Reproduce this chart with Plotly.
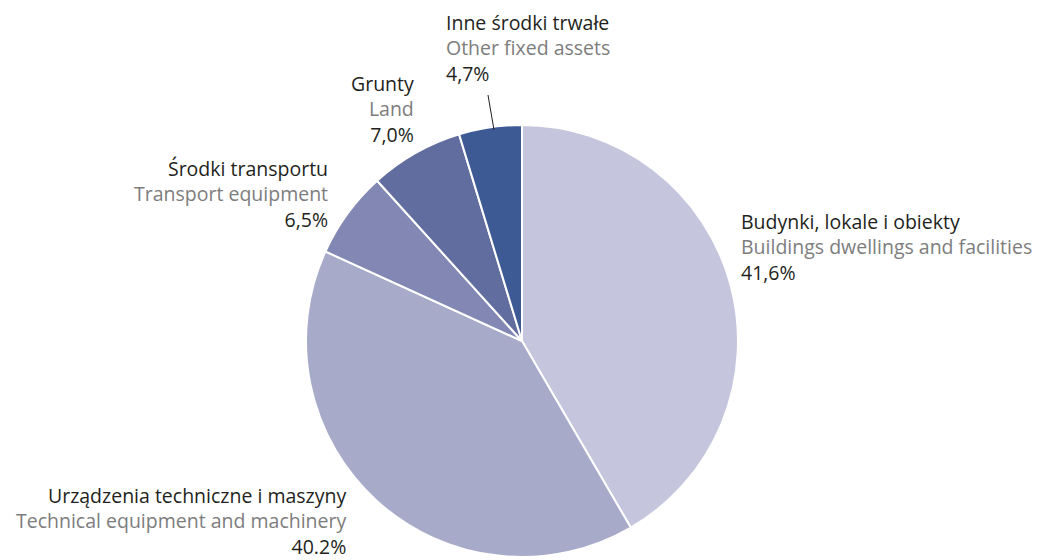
import plotly.graph_objects as go

# data
labels_pl = ["Budynki, lokale i obiekty", "Urządzenia techniczne i maszyny",
             "Środki transportu", "Grunty", "Inne środki trwałe"]
labels_en = ["Buildings dwellings and facilities", "Technical equipment and machinery",
             "Transport equipment", "Land", "Other fixed assets"]
values = [41.6, 40.2, 6.5, 7.0, 4.7]
value_text = ["41,6%", "40.2%", "6,5%", "7,0%", "4,7%"]
colors = ["#c5c6dd", "#a7aac9", "#8287b3", "#626d9f", "#3e5a95"]

W, H = 1046, 560

fig = go.Figure(go.Pie(
    labels=labels_en,
    values=values,
    sort=False,
    direction="clockwise",
    rotation=0,
    marker=dict(colors=colors, line=dict(color="white", width=2)),
    textinfo="none",
    hoverinfo="label+percent",
    showlegend=False,
    domain=dict(x=[298 / W, 730 / W], y=[11 / H, 443 / H]),
))

# label placement (pixel positions: x, centre of middle line, anchor)
label_pos = [
    (732, 239, "left"),
    (339, 513, "right"),
    (321, 186, "right"),
    (407, 101, "right"),
    (437, 40, "left"),
]

annotations = []
for i, (px, py, anchor) in enumerate(label_pos):
    txt = (f"<span style='color:#231f20'>{labels_pl[i]}</span><br>"
           f"<span style='color:#7d7d7d'>{labels_en[i]}</span><br>"
           f"<span style='color:#231f20'>{value_text[i]}</span>")
    annotations.append(dict(
        x=px / W, y=1 - py / H, xref="paper", yref="paper",
        text=txt, showarrow=False, xanchor=anchor, yanchor="middle",
        align=anchor, borderpad=0, font=dict(size=19.5, family="Open Sans"),
    ))

# leader line for the small slice
shapes = [dict(type="line", xref="paper", yref="paper",
               x0=480 / W, y0=1 - 87 / H, x1=486 / W, y1=1 - 122 / H,
               line=dict(color="#231f20", width=1))]

fig.update_layout(
    width=W, height=H,
    margin=dict(l=0, r=0, t=0, b=0),
    paper_bgcolor="white",
    plot_bgcolor="white",
    annotations=annotations,
    shapes=shapes,
)

fig.write_html("out.html")
